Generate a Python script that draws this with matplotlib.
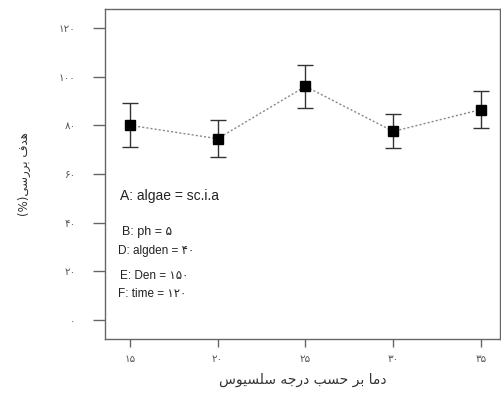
import matplotlib
matplotlib.use("Agg")
import matplotlib.pyplot as plt

# ---------------- data ----------------
temps = [15, 20, 25, 30, 35]
removal = [80, 74.5, 96, 77.5, 86.5]
errors = [9, 7.5, 9, 7, 7.5]
xtick_labels = ["۱۵", "۲۰", "۲۵", "۳۰", "۳۵"]
ytick_values = [0, 20, 40, 60, 80, 100, 120]
ytick_labels = ["۰", "۲۰", "۴۰", "۶۰", "۸۰", "۱۰۰", "۱۲۰"]
xlabel_text = "دما بر حسب درجه سلسیوس"
ylabel_text = "هدف بررسی(%)"
notes = ["A: algae = sc.i.a", "B: ph = ۵", "D: algden = ۴۰", "E: Den = ۱۵۰", "F: time = ۱۲۰"]

# ------------- minimal Persian shaping -------------
FORMS = {  # isolated, final, initial, medial
    "ا": ("\uFE8D", "\uFE8E", None, None),
    "ب": ("\uFE8F", "\uFE90", "\uFE91", "\uFE92"),
    "ج": ("\uFE9D", "\uFE9E", "\uFE9F", "\uFEA0"),
    "ح": ("\uFEA1", "\uFEA2", "\uFEA3", "\uFEA4"),
    "د": ("\uFEA9", "\uFEAA", None, None),
    "ر": ("\uFEAD", "\uFEAE", None, None),
    "س": ("\uFEB1", "\uFEB2", "\uFEB3", "\uFEB4"),
    "ف": ("\uFED1", "\uFED2", "\uFED3", "\uFED4"),
    "ل": ("\uFEDD", "\uFEDE", "\uFEDF", "\uFEE0"),
    "م": ("\uFEE1", "\uFEE2", "\uFEE3", "\uFEE4"),
    "ه": ("\uFEE9", "\uFEEA", "\uFEEB", "\uFEEC"),
    "و": ("\uFEED", "\uFEEE", None, None),
    "ی": ("\uFBFC", "\uFBFD", "\uFBFE", "\uFBFF"),
}


def joins_next(c):
    return c in FORMS and FORMS[c][2] is not None


def shape(text):
    out = []
    for i, c in enumerate(text):
        if c not in FORMS:
            out.append(c)
            continue
        prev = text[i - 1] if i > 0 else ""
        nxt = text[i + 1] if i + 1 < len(text) else ""
        jp = joins_next(prev)
        jn = joins_next(c) and nxt in FORMS
        iso, fin, ini, med = FORMS[c]
        if jp and jn:
            out.append(med)
        elif jp:
            out.append(fin)
        elif jn:
            out.append(ini)
        else:
            out.append(iso)
    s = "".join(out)
    mirror = {"(": ")", ")": "("}
    return "".join(mirror.get(ch, ch) for ch in reversed(s))


plt.rcParams["font.family"] = ["DejaVu Sans"]

fig = plt.figure(figsize=(5.02, 3.94), dpi=100)
ax = fig.add_axes([0.209, 0.140, 0.787, 0.837])

ax.errorbar(temps, removal, yerr=errors, fmt="s", color="black", ms=6.5,
            ecolor="#333333", elinewidth=1.0, capsize=6, capthick=1.0, zorder=3)
ax.plot(temps, removal, linestyle=(0, (1.5, 1.5)), color="#888888", lw=1.0, zorder=2)

ax.set_xlim(13.58, 36.08)
ax.set_ylim(-7.8, 127.8)
ax.set_xticks(temps)
ax.set_xticklabels(xtick_labels)
ax.set_yticks(ytick_values)
ax.set_yticklabels(ytick_labels)

for sp in ax.spines.values():
    sp.set_color("#666666")
    sp.set_linewidth(1.0)

ax.tick_params(axis="y", direction="out", length=9, width=1.0, color="#666666",
               labelsize=7.5, labelcolor="#555555", pad=12)
ax.tick_params(axis="x", direction="out", length=6, width=1.0, color="#666666",
               labelsize=7.5, labelcolor="#555555", pad=5)

ax.set_xlabel(shape(xlabel_text), fontsize=10, color="#333333", labelpad=6)
ax.set_ylabel(shape(ylabel_text), fontsize=8.5, color="#333333", labelpad=20)

note_pos = [(0.038, 0.433, 10), (0.043, 0.324, 9), (0.033, 0.265, 8.5),
            (0.038, 0.190, 8.5), (0.033, 0.136, 8.5)]
for txt, (xx, yy, fs) in zip(notes, note_pos):
    ax.text(xx, yy, txt, transform=ax.transAxes, fontsize=fs, color="#222222",
            va="center", ha="left", family=["Liberation Sans", "DejaVu Sans"])

fig.savefig("out.png", dpi=100)
